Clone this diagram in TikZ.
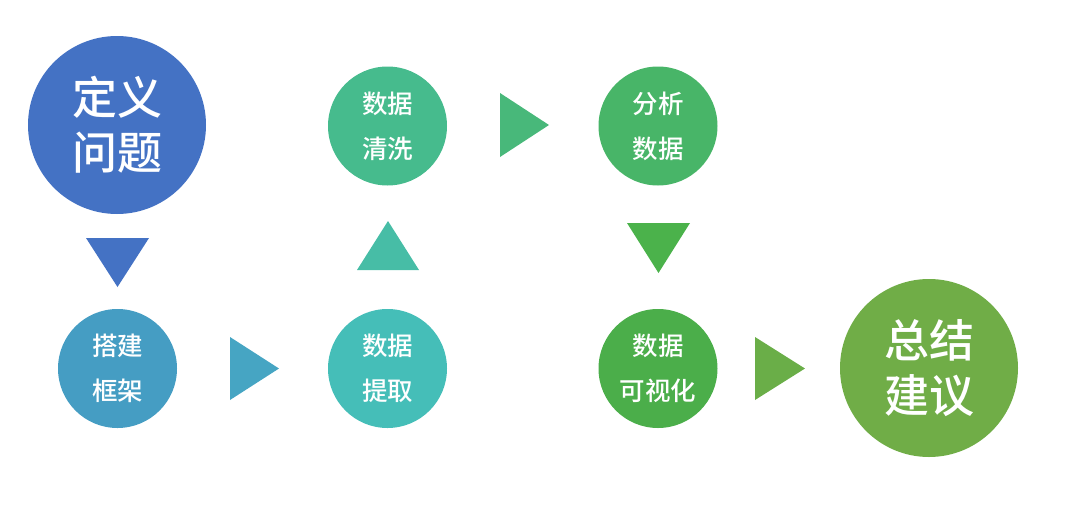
\documentclass[tikz,border=0pt]{standalone}
\usepackage{fontspec}
\usepackage{xcolor}
\newfontfamily\cjk{Noto Sans CJK SC Medium}

\definecolor{cBlue}{HTML}{4472C4}
\definecolor{cSteel}{HTML}{459DC3}
\definecolor{cSteelTri}{HTML}{46A5C3}
\definecolor{cTeal}{HTML}{45BEB8}
\definecolor{cTealTri}{HTML}{47BDA6}
\definecolor{cSea}{HTML}{46BB8D}
\definecolor{cSeaTri}{HTML}{48B87A}
\definecolor{cGreen}{HTML}{48B568}
\definecolor{cGreenTri}{HTML}{4BB24B}
\definecolor{cLeaf}{HTML}{4BAE4A}
\definecolor{cLeafTri}{HTML}{6AAE48}
\definecolor{cOlive}{HTML}{70AD47}

\begin{document}
\begin{tikzpicture}[x=1pt, y=-1pt,
    small/.style={circle, minimum size=119pt, inner sep=0pt, text=white, align=center,
        font=\cjk\fontsize{25.5}{45}\selectfont},
    big/.style={circle, minimum size=178pt, inner sep=0pt, text=white, align=center,
        font=\cjk\fontsize{45}{55}\selectfont}]
    \useasboundingbox (0,0) rectangle (1080,512);

    \node[big, fill=cBlue] (define) at (117,125) {定义\\问题};
    \node[small, fill=cSteel] (frame) at (117.5,368.5) {搭建\\框架};
    \node[small, fill=cTeal] (extract) at (387.5,368.5) {数据\\提取};
    \node[small, fill=cSea] (clean) at (387.5,126) {数据\\清洗};
    \node[small, fill=cGreen] (analyse) at (658,126) {分析\\数据};
    \node[small, fill=cLeaf] (visual) at (658,368.5) {数据\\可视化};
    \node[big, fill=cOlive] (advice) at (929,368) {总结\\建议};

    % arrows between the steps
    \fill[cBlue] (86,238) -- (149,238) -- (117.5,287) -- cycle;
    \fill[cSteelTri] (230,337) -- (279,368.5) -- (230,400) -- cycle;
    \fill[cTealTri] (357,270) -- (419,270) -- (388,221) -- cycle;
    \fill[cSeaTri] (500,93) -- (549,125) -- (500,157) -- cycle;
    \fill[cGreenTri] (627,223) -- (690,223) -- (658.5,273) -- cycle;
    \fill[cLeafTri] (755,337) -- (805,368.5) -- (755,400) -- cycle;
\end{tikzpicture}
\end{document}
